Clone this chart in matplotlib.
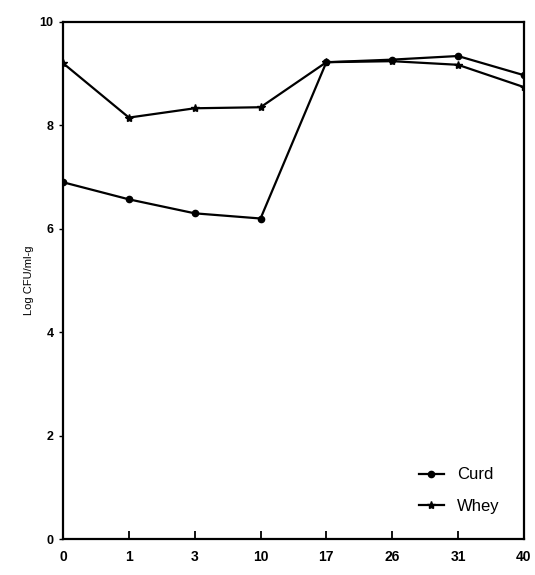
import matplotlib
matplotlib.use("Agg")
import matplotlib.pyplot as plt

days = ["0", "1", "3", "10", "17", "26", "31", "40"]
curd = [6.9, 6.57, 6.3, 6.2, 9.22, 9.27, 9.34, 8.97]
whey = [9.2, 8.15, 8.33, 8.35, 9.22, 9.24, 9.17, 8.74]
yticks = [0, 2, 4, 6, 8, 10]

plt.rcParams['font.family'] = ['Liberation Sans', 'DejaVu Sans']
fig = plt.figure(figsize=(5.35, 5.75), dpi=100)
ax = fig.add_axes([0.118, 0.062, 0.861, 0.9])
x = list(range(len(days)))
ax.plot(x, curd, color='black', lw=1.6, marker='o', ms=4.5, label='Curd')
ax.plot(x, whey, color='black', lw=1.6, marker='*', ms=6, label='Whey')
ax.set_xlim(0, len(days) - 1)
ax.set_ylim(0, 10)
ax.set_xticks(x)
ax.set_xticklabels(days, fontweight='bold', fontsize=10)
ax.set_yticks(yticks)
ax.set_yticklabels([str(v) for v in yticks], fontweight='bold', fontsize=9)
ax.tick_params(axis='x', direction='in', length=6, width=1.3, pad=8)
ax.tick_params(axis='y', direction='out', length=3, width=1.0, pad=4)
for s in ax.spines.values():
    s.set_linewidth(1.6)
ax.set_ylabel('Log CFU/ml-g', fontsize=8)
ax.legend(loc='lower right', frameon=False, fontsize=12, bbox_to_anchor=(0.98, 0.02),
          handlelength=1.5, labelspacing=1.0)
fig.savefig('out.png', dpi=100)
